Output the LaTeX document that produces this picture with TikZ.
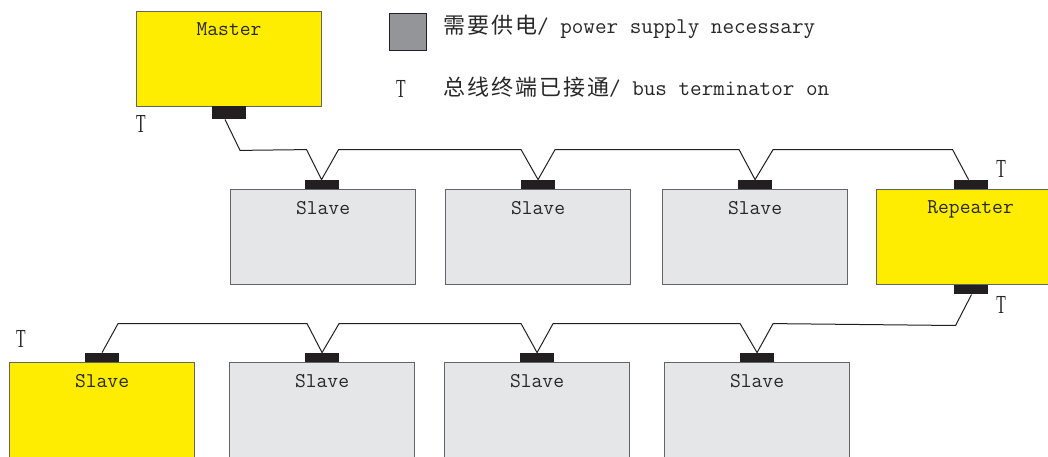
\documentclass[tikz,border=0pt]{standalone}
\usepackage{fontspec}
\newfontfamily\cjk[LetterSpace=9]{Noto Sans CJK SC}
\newfontfamily\serifT{Liberation Serif}
\definecolor{yel}{RGB}{255,237,0}
\definecolor{boxgray}{RGB}{229,230,232}
\definecolor{boxline}{RGB}{100,100,104}
\definecolor{plugc}{RGB}{35,31,32}
\definecolor{legendgray}{RGB}{147,149,152}
\definecolor{txt}{RGB}{40,40,40}
\begin{document}
\begin{tikzpicture}[x=1pt,y=-1pt,
  box/.style={draw=boxline, line width=1.1pt, minimum width=185pt, minimum height=95pt, anchor=north west, inner sep=0pt},
  slavebox/.style={box, fill=boxgray},
  yelbox/.style={box, fill=yel},
  plug/.style={fill=plugc, minimum width=34pt, minimum height=9pt, inner sep=0pt, anchor=south},
  boxname/.style={font=\ttfamily\fontsize{21}{21}\selectfont, text=txt, anchor=north, inner sep=0pt},
  tlabel/.style={font=\serifT\fontsize{26}{26}\selectfont, text=txt, inner sep=0pt},
  cable/.style={draw=plugc, line width=1pt, line join=miter}]
\useasboundingbox (0,0) rectangle (1048,457);

% Master
\node[yelbox] (master) at (136,11) {};
\node[boxname] (mastert) at ([yshift=-11pt]master.north) {Master};
\node[plug, minimum height=13pt, anchor=north] (mplug) at (229,106) {};

% Row 1
\node[slavebox] (s1) at (230,189) {};
\node[slavebox] (s2) at (445,189) {};
\node[slavebox] (s3) at (662,189) {};
\node[yelbox, minimum width=188pt] (rep) at (876,189) {};
\node[boxname] (s1t) at ([yshift=-12pt]s1.north) {Slave};
\node[boxname] (s2t) at ([yshift=-12pt]s2.north) {Slave};
\node[boxname] (s3t) at ([yshift=-12pt]s3.north) {Slave};
\node[boxname] (rept) at ([yshift=-11pt]rep.north) {Repeater};
\node[plug] (p1) at ([xshift=-1.5pt]s1.north) {};
\node[plug] (p2) at (s2.north) {};
\node[plug] (p3) at (s3.north) {};
\node[plug] (rt) at (rep.north) {};
\node[plug, anchor=north] (rb) at (rep.south) {};

% Row 2
\node[yelbox, minimum height=100pt] (y1) at (9,362) {};
\node[slavebox, minimum height=100pt] (b2) at (229,362) {};
\node[slavebox, minimum height=100pt] (b3) at (444,362) {};
\node[slavebox, minimum height=100pt] (b4) at (664,362) {};
\node[boxname] (y1t) at ([yshift=-12pt]y1.north) {Slave};
\node[boxname] (b2t) at ([yshift=-12pt]b2.north) {Slave};
\node[boxname] (b3t) at ([yshift=-12pt]b3.north) {Slave};
\node[boxname] (b4t) at ([yshift=-12pt]b4.north) {Slave};
\node[plug] (q1) at (y1.north) {};
\node[plug] (q2) at (b2.north) {};
\node[plug] (q3) at (b3.north) {};
\node[plug] (q4) at (b4.north) {};

% Cable row 1
\draw[cable] ([xshift=-4pt]mplug.south) -- ++(15,31) coordinate (mc)
  -- ([xshift=-15pt,yshift=30pt]p1.north) -- (p1.north) -- ([xshift=17pt,yshift=30pt]p1.north)
  -- ([xshift=-17pt,yshift=30pt]p2.north) -- (p2.north) -- ([xshift=17pt,yshift=30pt]p2.north)
  -- ([xshift=-16pt,yshift=30pt]p3.north) -- (p3.north) -- ([xshift=18pt,yshift=30pt]p3.north)
  -- ([xshift=-18pt,yshift=30pt]rt.north) -- ([xshift=-2pt]rt.north);

% Cable row 2
\draw[cable] (q1.north) -- ++(16,-29) coordinate (qc)
  -- ([xshift=-15pt,yshift=29pt]q2.north) -- (q2.north) -- ([xshift=17pt,yshift=29pt]q2.north)
  -- ([xshift=-16pt,yshift=29pt]q3.north) -- (q3.north) -- ([xshift=16pt,yshift=29pt]q3.north)
  -- ([xshift=-17pt,yshift=29pt]q4.north) -- (q4.north) -- ([xshift=16pt,yshift=29pt]q4.north)
  -- ([xshift=-15pt,yshift=-31pt]rb.south) -- ([xshift=1pt]rb.south);

% T labels
\node[tlabel] (tm) at (141,124) {\scalebox{0.6}[1]{T}};
\node[tlabel] (tr1) at (1001,169) {\scalebox{0.6}[1]{T}};
\node[tlabel] (tr2) at (1001,305) {\scalebox{0.6}[1]{T}};
\node[tlabel] (ty) at (21,339) {\scalebox{0.6}[1]{T}};

% Legend
\node[draw=plugc, line width=1.2pt, fill=legendgray, minimum size=37pt, anchor=north west, inner sep=0pt] (lg) at (389,13) {};
\node[tlabel, anchor=base] (lt) at (401,98) {\scalebox{0.6}[1]{T}};
\node[anchor=base west, inner sep=0pt, text=txt] (leg1) at (443,34)
  {{\cjk\fontsize{22}{22}\selectfont 需要供电}{\ttfamily\fontsize{22.5}{22.5}\selectfont / power supply necessary}};
\node[anchor=base west, inner sep=0pt, text=txt] (leg2) at (443,96)
  {{\cjk\fontsize{22}{22}\selectfont 总线终端已接通}{\ttfamily\fontsize{22.5}{22.5}\selectfont / bus terminator on}};
\end{tikzpicture}
\end{document}
